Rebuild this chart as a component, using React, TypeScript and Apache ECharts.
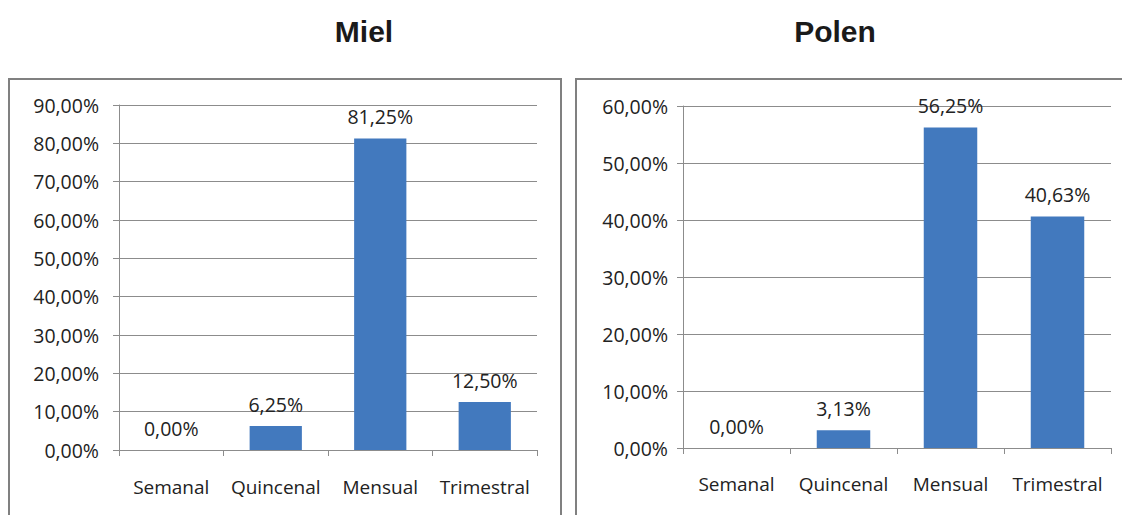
import React, { useEffect, useRef } from "react";
import * as echarts from "echarts";

// Frequency categories shared by both panels
const categories = ["Semanal", "Quincenal", "Mensual", "Trimestral"];

// Percentages for honey (Miel)
const mielValues = [0, 6.25, 81.25, 12.5];
// Percentages for pollen (Polen)
const polenValues = [0, 3.13, 56.25, 40.63];

const titles = ["Miel", "Polen"];

const mielAxisMax = 90;
const polenAxisMax = 60;
const axisStep = 10;

const FONT = "'Open Sans', 'DejaVu Sans', sans-serif";
const BAR = "#4279BE";
const GRID = "#8C8C8C";
const TEXT = "#222222";

const pct = (v: number) => v.toFixed(2).replace(".", ",") + "%";

export default function App() {
  const ref = useRef<HTMLDivElement>(null);

  useEffect(() => {
    if (!ref.current) return;
    const chart = echarts.init(ref.current, null, { renderer: "svg" });

    const xAxis = (gridIndex: number, margin: number) => ({
      type: "category" as const,
      gridIndex,
      data: categories,
      axisLine: { lineStyle: { color: GRID, width: 1 } },
      axisTick: { show: true, length: 6, interval: 0, lineStyle: { color: GRID } },
      axisLabel: { color: TEXT, fontFamily: FONT, fontSize: 19, margin, interval: 0 },
    });

    const yAxis = (gridIndex: number, max: number, margin: number) => ({
      type: "value" as const,
      gridIndex,
      min: 0,
      max,
      interval: axisStep,
      axisLine: { show: true, lineStyle: { color: GRID, width: 1 } },
      axisTick: { show: true, length: 6, lineStyle: { color: GRID } },
      splitLine: { show: true, lineStyle: { color: GRID, width: 1 } },
      axisLabel: { color: TEXT, fontFamily: FONT, fontSize: 19.5, margin, formatter: (v: number) => pct(v) },
    });

    const bars = (index: number, data: number[]) => ({
      type: "bar" as const,
      xAxisIndex: index,
      yAxisIndex: index,
      data,
      barWidth: "50%",
      itemStyle: { color: BAR },
      label: {
        show: true,
        position: "top" as const,
        distance: 12,
        color: TEXT,
        fontFamily: FONT,
        fontSize: 19.5,
        formatter: (p: any) => pct(p.value as number),
      },
    });

    chart.setOption({
      animation: false,
      backgroundColor: "#ffffff",
      grid: [
        { left: 119, right: 585, top: 105, bottom: 65 },
        { left: 683, right: 11, top: 106, bottom: 67 },
      ],
      xAxis: [xAxis(0, 27), xAxis(1, 26)],
      yAxis: [yAxis(0, mielAxisMax, 20), yAxis(1, polenAxisMax, 15)],
      series: [bars(0, mielValues), bars(1, polenValues)],
      graphic: [
        {
          type: "rect",
          shape: { x: 9, y: 79, width: 552, height: 460 },
          style: { fill: "none", stroke: "#808080", lineWidth: 2 },
          silent: true,
          z: -1,
        },
        {
          type: "rect",
          shape: { x: 576, y: 79, width: 600, height: 460 },
          style: { fill: "none", stroke: "#808080", lineWidth: 2 },
          silent: true,
          z: -1,
        },
        {
          type: "text",
          x: 364,
          y: 31,
          style: {
            text: titles[0],
            fill: "#1a1a1a",
            font: "bold 30px 'Liberation Sans', Arial, sans-serif",
            textAlign: "center",
            textVerticalAlign: "middle",
          },
        },
        {
          type: "text",
          x: 835,
          y: 31,
          style: {
            text: titles[1],
            fill: "#1a1a1a",
            font: "bold 30px 'Liberation Sans', Arial, sans-serif",
            textAlign: "center",
            textVerticalAlign: "middle",
          },
        },
      ],
    });

    return () => chart.dispose();
  }, []);

  return (
    <div
      ref={ref}
      style={{ position: "fixed", left: 0, top: 0, width: 1122, height: 515 }}
    />
  );
}
